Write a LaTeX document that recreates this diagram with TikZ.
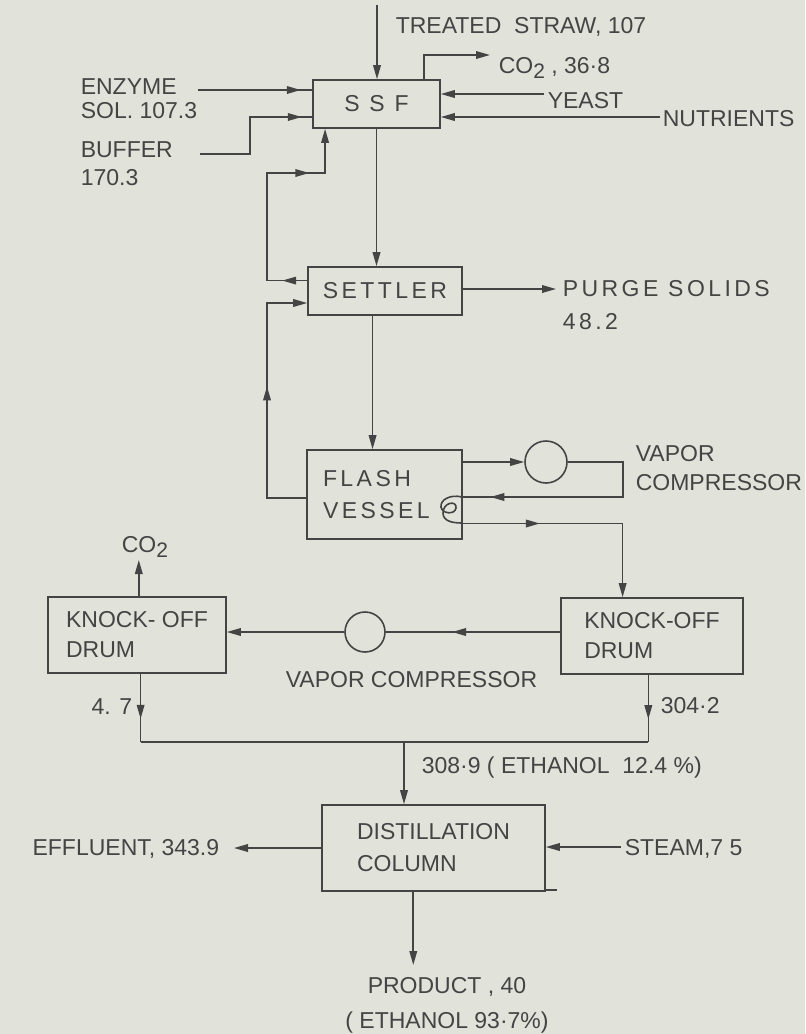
\documentclass[tikz,border=0pt]{standalone}
\usepackage{fontspec}
\setmainfont{Liberation Sans}
\newfontfamily\spcfont[LetterSpace=15]{Liberation Sans}
\usetikzlibrary{arrows.meta,calc,decorations.markings}
\definecolor{paper}{RGB}{225,226,218}
\definecolor{ink}{RGB}{68,68,68}
\newcommand{\subtwo}{\raisebox{-0.45ex}{\fontsize{10.5}{10.5}\selectfont 2}}

\begin{document}
\begin{tikzpicture}[
    x=0.5pt, y=-0.5pt, color=ink, line width=0.8pt,
    font=\fontsize{11.5}{14.5}\selectfont,
    unit/.style={draw, align=left, inner sep=2pt},
    spc/.style={font=\spcfont\fontsize{11.5}{14.5}\selectfont},
    lbl/.style={inner sep=2pt, align=left},
    pump/.style={circle, draw, inner sep=0pt, minimum size=#1},
    flow/.style={-{Triangle[length=7pt,width=3.8pt]}},
    midtip/.style={postaction={decorate,decoration={markings,
        mark=at position #1 with {\arrow{Triangle[length=7pt,width=3.8pt]}}}}},
]
\fill[paper] (0,0) rectangle (805,1034);
\useasboundingbox (0,0) rectangle (805,1034);

% Units
\node[unit, spc, minimum width=63.5pt, minimum height=24pt] (ssf) at (376.5,104) {S S F};
\node[unit, spc, minimum width=77pt, minimum height=24pt] (settler) at (385,291) {SETTLER};
\node[unit, spc, text width=61.5pt, minimum width=77.5pt, minimum height=44.5pt] (flash) at (384.5,494.5) {FLASH\\[1.5pt]VESSEL};
\node[unit, minimum width=89pt, minimum height=38pt] (koL) at (137,635) {KNOCK- OFF\\[0.5pt]DRUM};
\node[unit, minimum width=91pt, minimum height=38pt] (koR) at (652,636) {KNOCK-OFF\\[0.5pt]DRUM};
\node[unit, minimum width=111.5pt, minimum height=43pt] (dist) at (433.5,848) {DISTILLATION\\[1.5pt]COLUMN};
\node[pump=21pt] (comp1) at (546,462) {};
\node[pump=20pt] (comp2) at (365,632) {};

% Stream labels
\node[lbl, anchor=base west] (strawlbl) at (391,33) {TREATED\ \ STRAW, 107};
\node[lbl, anchor=base west] (co2top) at (494,73) {CO\subtwo\ , 36·8};
\node[lbl, anchor=north west] (enzlbl) at (76,73.5) {ENZYME\\[-2.5pt]SOL. 107.3};
\node[lbl, anchor=north west] (buflbl) at (76,137) {BUFFER\\[-0.5pt]170.3};
\node[lbl, anchor=base west] (yeastlbl) at (543,108) {YEAST};
\node[lbl, anchor=base west] (nutlbl) at (658,126) {NUTRIENTS};
\node[lbl, spc, anchor=north west] (purgelbl) at (558,275.5) {PURGE\ SOLIDS\\[2pt]48.2};
\node[lbl, anchor=north west] (vap1lbl) at (631,440.5) {VAPOR\\COMPRESSOR};
\node[lbl, anchor=base west] (vap2lbl) at (281,687) {VAPOR COMPRESSOR};
\node[lbl, anchor=base west] (co2bot) at (117,552) {CO\subtwo};
\node[lbl, anchor=base east] (kolout) at (137,714) {4. 7};
\node[lbl, anchor=base west] (korout) at (656,713) {304·2};
\node[lbl, anchor=base west] (mixlbl) at (417,773) {308·9 ( ETHANOL\ \ 12.4 \%)};
\node[lbl, anchor=base east] (efflbl) at (224,855) {EFFLUENT, 343.9};
\node[lbl, anchor=base west] (steamlbl) at (620,855) {STEAM,7 5};
\node[lbl, align=center, anchor=north, inner ysep=6pt] (prodlbl) at (447,965) {PRODUCT , 40\\[3pt]( ETHANOL 93·7\%)};

% Free ends
\coordinate (strawk) at (377,5);
\coordinate (co2k) at (490,55);
\coordinate (enzk) at (198,90);
\coordinate (bufk) at (200,154);
\coordinate (bufc) at (250,117);
\coordinate (yeastk) at (544,94);
\coordinate (nutk) at (660,117);
\coordinate (purgek) at (556,289);
\coordinate (loopa) at (267,173);
\coordinate (loopb) at (267,303);
\coordinate (retk) at (623,497);
\coordinate (co2bk) at (139,560);
\coordinate (mixk) at (404,742);
\coordinate (efflk) at (234,847);
\coordinate (steamk) at (621,847);
\coordinate (prodk) at (413,965);

% SSF feeds
\draw[flow] (strawk) -- (strawk |- ssf.north);
\draw[flow] ($(ssf.north west)!0.87!(ssf.north east)$) |- (co2k);
\draw[midtip=0.9] (enzk) -- (enzk -| ssf.west);
\draw[midtip=0.93] (bufk) -| (bufc) -- (bufc -| ssf.west);
\draw[flow] (yeastk) -- (yeastk -| ssf.east);
\draw[flow] (nutk) -- (nutk -| ssf.east);
\draw[flow] (ssf.south) -- (ssf.south |- settler.north);

% Recycles
\draw[flow, midtip=0.1, midtip=0.76] ($(settler.north west)!0.29!(settler.south west)$) -| (loopa) -| ($(ssf.south west)!0.1!(ssf.south east)$);
\draw[flow, midtip=0.55] ($(flash.north west)!0.54!(flash.south west)$) -| (loopb) -- (loopb -| settler.west);
\draw[flow] (settler.east |- purgek) -- (purgek);
\draw[flow] ($(settler.south west)!0.42!(settler.south east)$) coordinate (sf) -- (sf |- flash.north);

% Flash vessel loop
\draw[flow] (comp1 -| flash.east) -- (comp1.west);
\draw[midtip=0.89] (comp1.east) -| (retk) -- (retk -| flash.east);
\draw (462,497) .. controls (450,494) and (440,500) .. (441,507)
      .. controls (442,514) and (455,515) .. (456,508)
      .. controls (457,500) and (443,502) .. (443,513)
      .. controls (443,521) and (452,523) .. (462,523);
\draw[flow, midtip=0.33] ($(flash.north east)!0.82!(flash.south east)$) -| ($(koR.north west)!0.34!(koR.north east)$);

% Knock-off drums
\draw[midtip=0.62] (comp2 -| koR.west) -- (comp2.east);
\draw[flow] (comp2.west) -- (comp2 -| koL.east);
\draw[flow] ($(koL.north west)!0.51!(koL.north east)$) coordinate (kt) -- (kt |- co2bk);
\draw[midtip=0.66] ($(koL.south west)!0.52!(koL.south east)$) coordinate (dl) -- (dl |- mixk);
\draw[midtip=0.66] ($(koR.south west)!0.48!(koR.south east)$) coordinate (dr) -- (dr |- mixk);
\draw (dl |- mixk) -- (dr |- mixk);
\draw[flow] (mixk) -- (mixk |- dist.north);

% Distillation
\draw[flow] (dist.west) -- (dist.west -| efflk);
\draw[flow] (steamk) -- (steamk -| dist.east);
\draw ([yshift=1pt]dist.south east) -- ++(11,0);
\draw[flow] ($(dist.south west)!0.41!(dist.south east)$) coordinate (dp) -- (dp |- prodk);
\end{tikzpicture}
\end{document}
